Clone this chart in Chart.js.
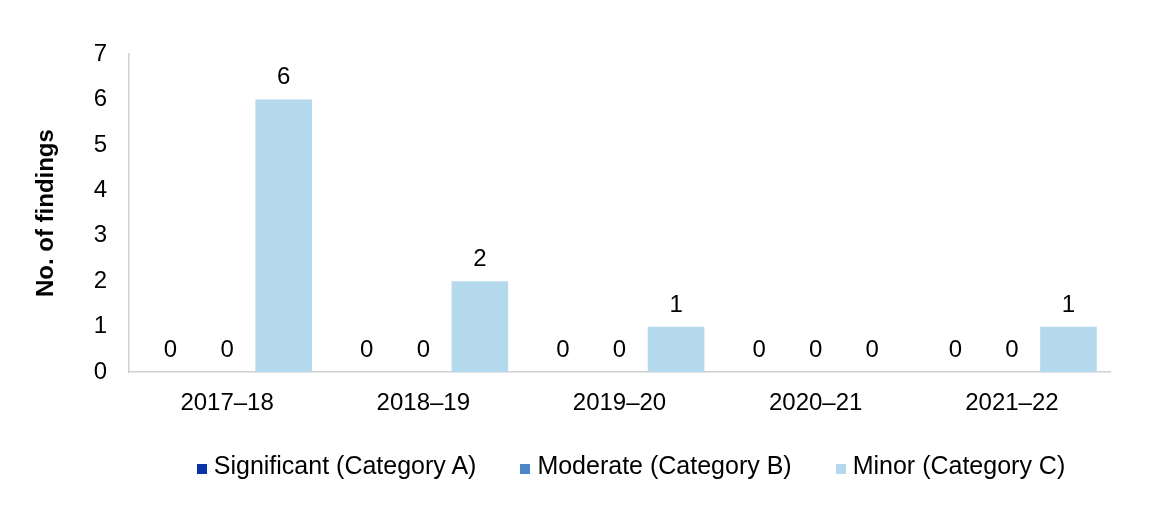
<!DOCTYPE html>
<html lang="en">
<head>
    <meta charset="UTF-8">
    <title>Findings by category</title>
    <script src="https://cdn.jsdelivr.net/npm/chart.js@4/dist/chart.umd.min.js"></script>
    <style>
        body {
            margin: 0;
            padding: 0;
            background-color: #ffffff;
        }
        #chartBox {
            position: relative;
            width: 1164px;
            height: 516px;
        }
        #legend {
            position: absolute;
            left: 0;
            top: 451px;
            width: 1262px;
            display: flex;
            justify-content: center;
            font-family: 'Liberation Sans', Arial, sans-serif;
            font-size: 25px;
            color: #000000;
            line-height: 28px;
        }
        .legend-item {
            display: flex;
            align-items: center;
            margin: 0 22px;
            white-space: nowrap;
        }
        .legend-box {
            width: 10px;
            height: 10px;
            margin-right: 7px;
            margin-top: 7px;
        }
    </style>
</head>
<body>

<div id="chartBox">
    <canvas id="findingsChart"></canvas>
    <div id="legend"></div>
</div>

<script>
    // Data
    const years = ['2017\u201318', '2018\u201319', '2019\u201320', '2020\u201321', '2021\u201322'];
    const significant = [0, 0, 0, 0, 0];
    const moderate = [0, 0, 0, 0, 0];
    const minor = [6, 2, 1, 0, 1];
    const seriesNames = ['Significant (Category A)', 'Moderate (Category B)', 'Minor (Category C)'];
    const seriesColors = ['#0a33a3', '#4a86c8', '#b4d8ec'];

    const fontFamily = "'Liberation Sans', Arial, sans-serif";
    const fontSize = 24;

    // Draw the value above each bar
    const valueLabels = {
        id: 'valueLabels',
        afterDatasetsDraw(chart) {
            const ctx = chart.ctx;
            ctx.save();
            ctx.font = fontSize + 'px ' + fontFamily;
            ctx.fillStyle = '#000000';
            ctx.textAlign = 'center';
            ctx.textBaseline = 'alphabetic';
            chart.data.datasets.forEach((ds, i) => {
                chart.getDatasetMeta(i).data.forEach((bar, j) => {
                    ctx.fillText(String(ds.data[j]), bar.x, bar.y - 15);
                });
            });
            ctx.restore();
        }
    };

    const ctx = document.getElementById('findingsChart').getContext('2d');
    const findingsChart = new Chart(ctx, {
        type: 'bar',
        data: {
            labels: years,
            datasets: [
                { label: seriesNames[0], data: significant, backgroundColor: seriesColors[0] },
                { label: seriesNames[1], data: moderate, backgroundColor: seriesColors[1] },
                { label: seriesNames[2], data: minor, backgroundColor: seriesColors[2] }
            ]
        },
        options: {
            responsive: true,
            maintainAspectRatio: false,
            animation: false,
            layout: {
                padding: { left: 0, right: 54, top: 54, bottom: 81 }
            },
            datasets: {
                bar: {
                    categoryPercentage: 0.865,
                    barPercentage: 1.0
                }
            },
            scales: {
                x: {
                    grid: { display: false, drawTicks: false },
                    border: { display: true, color: '#d0d0d0', width: 1.5 },
                    ticks: {
                        color: '#000000',
                        padding: 17,
                        font: { family: fontFamily, size: fontSize }
                    }
                },
                y: {
                    min: 0,
                    max: 7,
                    afterFit(scale) { scale.width = 129; },
                    grid: { display: false, drawTicks: false },
                    border: { display: true, color: '#d0d0d0', width: 1.5 },
                    ticks: {
                        stepSize: 1,
                        color: '#000000',
                        padding: 22,
                        font: { family: fontFamily, size: fontSize }
                    },
                    title: {
                        display: true,
                        text: 'No. of findings',
                        color: '#000000',
                        padding: { top: 32, bottom: 0 },
                        font: { family: fontFamily, size: fontSize, weight: 'bold' }
                    }
                }
            },
            plugins: {
                legend: { display: false },
                tooltip: { enabled: false }
            }
        },
        plugins: [valueLabels]
    });

    // Legend built from the series names and colours
    const legendBox = document.getElementById('legend');
    seriesNames.forEach((name, i) => {
        const item = document.createElement('div');
        item.className = 'legend-item';
        const box = document.createElement('span');
        box.className = 'legend-box';
        box.style.backgroundColor = seriesColors[i];
        const text = document.createElement('span');
        text.textContent = name;
        item.appendChild(box);
        item.appendChild(text);
        legendBox.appendChild(item);
    });
</script>

</body>
</html>
